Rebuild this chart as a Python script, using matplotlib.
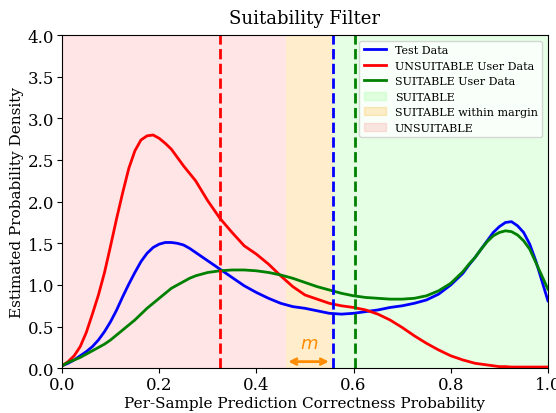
import numpy as np
import matplotlib
matplotlib.use("Agg")
import matplotlib.pyplot as plt
from matplotlib.patches import Patch

plt.rcParams['font.family'] = ['DejaVu Serif']

# sample positions (denser where the curves bend hard)
xs = [0.0, 0.0125, 0.025, 0.0375, 0.05, 0.0625, 0.075, 0.0875, 0.1, 0.1125,
      0.125, 0.1375, 0.15, 0.1625, 0.175, 0.1875, 0.2, 0.2125, 0.225, 0.2375,
      0.25, 0.2625, 0.275, 0.2875, 0.3,
      0.325, 0.35, 0.375, 0.4, 0.425, 0.45, 0.475, 0.5, 0.525, 0.55,
      0.575, 0.6, 0.625, 0.65, 0.675, 0.7, 0.725, 0.75, 0.775, 0.8, 0.825,
      0.8375, 0.85, 0.8625, 0.875, 0.8875, 0.9, 0.9125, 0.925, 0.9375, 0.95,
      0.9625, 0.975, 0.9875, 1.0]

test_density = [0.03, 0.06, 0.10, 0.15, 0.20, 0.26, 0.34, 0.44, 0.56, 0.70,
                0.86, 1.01, 1.15, 1.28, 1.38, 1.45, 1.49, 1.51, 1.51, 1.50,
                1.48, 1.44, 1.39, 1.34, 1.29,
                1.19, 1.09, 0.99, 0.91, 0.84, 0.78, 0.74, 0.72, 0.69, 0.66,
                0.65, 0.66, 0.68, 0.70, 0.73, 0.75, 0.78, 0.82, 0.89, 1.00, 1.14,
                1.24, 1.33, 1.43, 1.53, 1.63, 1.70, 1.75, 1.76, 1.71, 1.63,
                1.49, 1.29, 1.05, 0.81]

unsuitable_density = [0.03, 0.08, 0.15, 0.26, 0.43, 0.65, 0.88, 1.15, 1.47, 1.80,
                      2.11, 2.40, 2.61, 2.74, 2.79, 2.80, 2.76, 2.70, 2.63, 2.53,
                      2.43, 2.34, 2.25, 2.13, 2.01,
                      1.80, 1.63, 1.47, 1.37, 1.25, 1.11, 0.98, 0.88, 0.83, 0.78,
                      0.75, 0.73, 0.70, 0.65, 0.58, 0.49, 0.39, 0.30, 0.22, 0.15, 0.10,
                      0.08, 0.06, 0.05, 0.04, 0.03, 0.02, 0.02, 0.015, 0.015, 0.015,
                      0.015, 0.015, 0.015, 0.015]

suitable_density = [0.03, 0.07, 0.10, 0.13, 0.17, 0.21, 0.25, 0.29, 0.34, 0.40,
                    0.46, 0.52, 0.58, 0.65, 0.72, 0.78, 0.84, 0.90, 0.96, 1.00,
                    1.04, 1.08, 1.11, 1.13, 1.15,
                    1.17, 1.18, 1.18, 1.17, 1.15, 1.12, 1.08, 1.03, 0.98, 0.94,
                    0.90, 0.87, 0.85, 0.84, 0.83, 0.83, 0.84, 0.87, 0.93, 1.02, 1.16,
                    1.25, 1.33, 1.43, 1.52, 1.59, 1.63, 1.65, 1.64, 1.60, 1.53,
                    1.43, 1.27, 1.11, 0.95]

unsuitable_thr = 0.326
test_thr = 0.558
suitable_thr = 0.602
margin_start = 0.46

fig = plt.figure(figsize=(5.56, 4.14), dpi=100)
ax = fig.add_axes([0.1115, 0.108, 0.874, 0.805])

ax.axvspan(test_thr, 1.0, color='lime', alpha=0.1, lw=0)
ax.axvspan(margin_start, test_thr, color='orange', alpha=0.2, lw=0)
ax.axvspan(0.0, margin_start, color='red', alpha=0.1, lw=0)

ax.plot(xs, test_density, color='blue', lw=2, label='Test Data')
ax.plot(xs, unsuitable_density, color='red', lw=2, label='UNSUITABLE User Data')
ax.plot(xs, suitable_density, color='green', lw=2, label='SUITABLE User Data')

ax.axvline(unsuitable_thr, color='red', ls='--', lw=2)
ax.axvline(test_thr, color='blue', ls='--', lw=2)
ax.axvline(suitable_thr, color='green', ls='--', lw=2)

ax.annotate('', xy=(margin_start, 0.08), xytext=(test_thr - 0.003, 0.08),
            arrowprops=dict(arrowstyle='<->', color='darkorange', lw=2))
ax.text((margin_start + test_thr) / 2, 0.2, '$m$', color='darkorange',
        ha='center', va='bottom', fontsize=13)

ax.set_xlim(0, 1)
ax.set_ylim(0, 4)
ax.set_xticks(np.arange(0, 1.01, 0.2))
ax.set_yticks(np.arange(0, 4.01, 0.5))
ax.tick_params(labelsize=12, pad=2)
ax.set_xlabel('Per-Sample Prediction Correctness Probability', fontsize=11, labelpad=2)
ax.set_ylabel('Estimated Probability Density', fontsize=11, labelpad=3)
ax.set_title('Suitability Filter', fontsize=13, pad=9)

handles, labels = ax.get_legend_handles_labels()
handles += [Patch(color='lime', alpha=0.1), Patch(color='orange', alpha=0.2),
            Patch(color='red', alpha=0.1)]
labels += ['SUITABLE', 'SUITABLE within margin', 'UNSUITABLE']
ax.legend(handles, labels, loc='upper right', fontsize=8)

fig.savefig('out.png', dpi=100)
